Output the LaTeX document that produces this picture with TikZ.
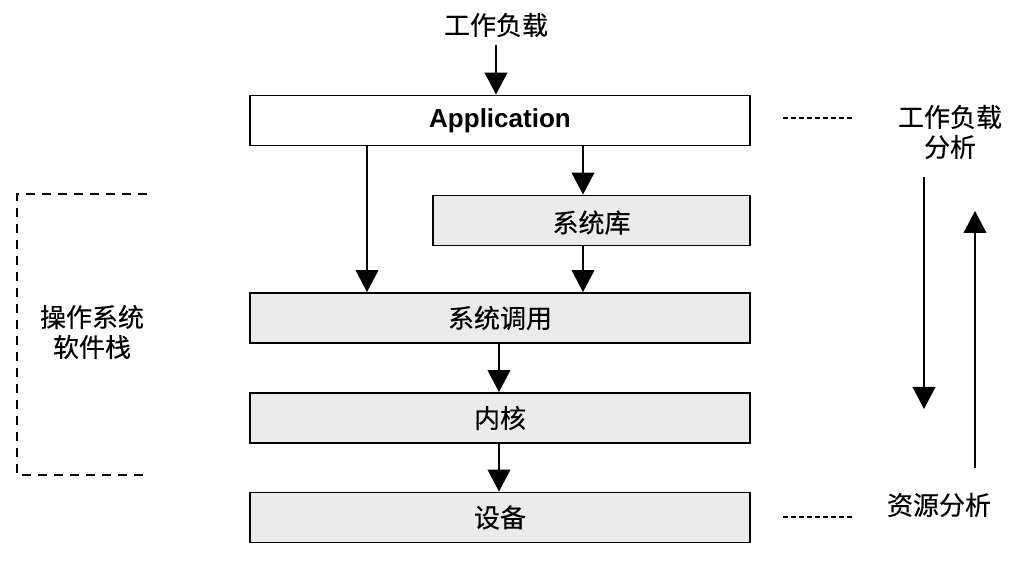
\documentclass[tikz,border=0pt]{standalone}
\usepackage{fontspec}
\setmainfont{Liberation Sans}
\newfontfamily\cjk[FakeBold=0.3]{Noto Sans CJK SC}
\usetikzlibrary{arrows.meta}
\definecolor{boxgray}{HTML}{EBEBEB}
\begin{document}
\begin{tikzpicture}[x=0.75pt,y=-0.75pt,
  layer/.style={draw=black, line width=1.4pt, fill=boxgray, minimum height=37.5pt, inner sep=0pt,
    font=\cjk\fontsize{19.5}{22}\selectfont},
  wide/.style={minimum width=375pt},
  lbl/.style={font=\cjk\fontsize{19.5}{22.5}\selectfont, align=center, inner sep=0pt},
  arr/.style={line width=1.4pt, -{Triangle[length=16.5pt,width=17pt]}},
  dots/.style={line width=1.1pt, dash pattern=on 4pt off 2pt},
  bracket/.style={line width=1.1pt, dash pattern=on 7pt off 5pt}
]
\useasboundingbox[fill=white] (0,0) rectangle (1022,573);

% layers
\node[layer, wide, fill=white, font=\bfseries\fontsize{19.5}{22}\selectfont] (app) at (500,120.5) {Application};
\node[layer, minimum width=237.75pt, text depth=0pt] (lib) at (591.5,220.5) {\raisebox{-1.5pt}{系统库}};
\node[layer, wide] (sc) at (500,318) {\raisebox{-1.5pt}{系统调用}};
\node[layer, wide] (kern) at (500,418) {\raisebox{-1.5pt}{内核}};
\node[layer, wide] (dev) at (500,517.5) {\raisebox{-1.5pt}{设备}};

% top label
\node[lbl] (wl) at (496,25) {工作负载};

% helper x positions
\coordinate (lx) at (367,0);
\coordinate (rx) at (583,0);
\coordinate (mx) at (499,0);

\draw[arr] (wl.south |- 0,45) -- (wl.south |- app.north);
\draw[arr] (app.south -| lx) -- (sc.north -| lx);
\draw[arr] (app.south -| rx) -- (lib.north -| rx);
\draw[arr] (lib.south -| rx) -- (sc.north -| rx);
\draw[arr] (sc.south -| mx) -- (kern.north -| mx);
\draw[arr] (kern.south -| mx) -- (dev.north -| mx);

% left bracket
\coordinate (b1) at (147,194);
\coordinate (b2) at (17,194);
\coordinate (b3) at (17,475);
\coordinate (b4) at (147,475);
\draw[bracket] (b1) -- (b2) -- (b3) -- (b4);
\node[lbl] (os) at (92,332) {操作系统\\软件栈};

% right side
\coordinate (d1a) at (783,118);
\coordinate (d1b) at (852,118);
\coordinate (d2a) at (783,517);
\coordinate (d2b) at (852,517);
\draw[dots] (d1a) -- (d1b);
\draw[dots] (d2a) -- (d2b);
\node[lbl] (wa) at (950,132) {工作负载\\分析};
\node[lbl] (ra) at (939,505) {资源分析};

\coordinate (dn1) at (924,177);
\coordinate (dn2) at (924,409);
\coordinate (up1) at (975,468);
\coordinate (up2) at (975,211);
\draw[arr] (dn1) -- (dn2);
\draw[arr] (up1) -- (up2);
\end{tikzpicture}
\end{document}
